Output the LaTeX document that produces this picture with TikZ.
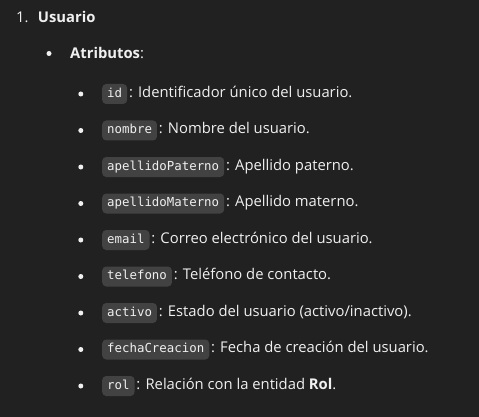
\documentclass[tikz,border=0pt]{standalone}
\usepackage{fontspec}
\setmainfont{Open Sans}
\setmonofont{DejaVu Sans Mono}
\usepackage{xcolor}
\usepackage{tikz}
\usetikzlibrary{positioning}

\definecolor{fondo}{HTML}{212121}
\definecolor{caja}{HTML}{424242}
\definecolor{letra}{HTML}{F0F0F0}

\tikzset{
  campo/.style={fill=caja, rounded corners=4pt, text=letra, anchor=west,
    font=\ttfamily\fontsize{12.4}{14}\selectfont, inner xsep=5pt, inner ysep=0pt,
    minimum height=20pt, text height=9pt, text depth=2.5pt},
  desc/.style={text=letra, anchor=base west, inner sep=0pt,
    font=\fontsize{14.8}{17}\selectfont},
  vineta/.style={circle, fill=letra, inner sep=0pt, minimum size=5pt},
}

\begin{document}
\begin{tikzpicture}[x=1pt,y=-1pt]
\fill[fondo] (0,0) rectangle (479,417);
\useasboundingbox (0,0) rectangle (479,417);

% encabezado
\node[desc] (num) at (16,22.7) {1.};
\node[desc] (titulo) at (37.7,22.7) {\textbf{Usuario}};
\node[vineta] (bulAtr) at (49,53.5) {};
\node[desc] (atributos) at (70,58.8) {\textbf{Atributos}:};

% atributos de la entidad
\node[campo] (code1) at (102,94) {id};
\node[vineta, left=18.5pt of code1] (bul1) {};
\node[desc] (desc1) at ([xshift=1.5pt]code1.base east) {: Identificador único del usuario.};

\node[campo] (code2) at (102,130.5) {nombre};
\node[vineta, left=18.5pt of code2] (bul2) {};
\node[desc] (desc2) at ([xshift=1.5pt]code2.base east) {: Nombre del usuario.};

\node[campo] (code3) at (102,167) {apellidoPaterno};
\node[vineta, left=18.5pt of code3] (bul3) {};
\node[desc] (desc3) at ([xshift=1.5pt]code3.base east) {: Apellido paterno.};

\node[campo] (code4) at (102,203.5) {apellidoMaterno};
\node[vineta, left=18.5pt of code4] (bul4) {};
\node[desc] (desc4) at ([xshift=1.5pt]code4.base east) {: Apellido materno.};

\node[campo] (code5) at (102,240) {email};
\node[vineta, left=18.5pt of code5] (bul5) {};
\node[desc] (desc5) at ([xshift=1.5pt]code5.base east) {: Correo electrónico del usuario.};

\node[campo] (code6) at (102,276.5) {telefono};
\node[vineta, left=18.5pt of code6] (bul6) {};
\node[desc] (desc6) at ([xshift=1.5pt]code6.base east) {: Teléfono de contacto.};

\node[campo] (code7) at (102,313) {activo};
\node[vineta, left=18.5pt of code7] (bul7) {};
\node[desc] (desc7) at ([xshift=1.5pt]code7.base east) {: Estado del usuario (activo/inactivo).};

\node[campo] (code8) at (102,349.5) {fechaCreacion};
\node[vineta, left=18.5pt of code8] (bul8) {};
\node[desc] (desc8) at ([xshift=1.5pt]code8.base east) {: Fecha de creación del usuario.};

\node[campo] (code9) at (102,386) {rol};
\node[vineta, left=18.5pt of code9] (bul9) {};
\node[desc] (desc9) at ([xshift=1.5pt]code9.base east) {: Relación con la entidad \textbf{Rol}.};
\end{tikzpicture}
\end{document}
